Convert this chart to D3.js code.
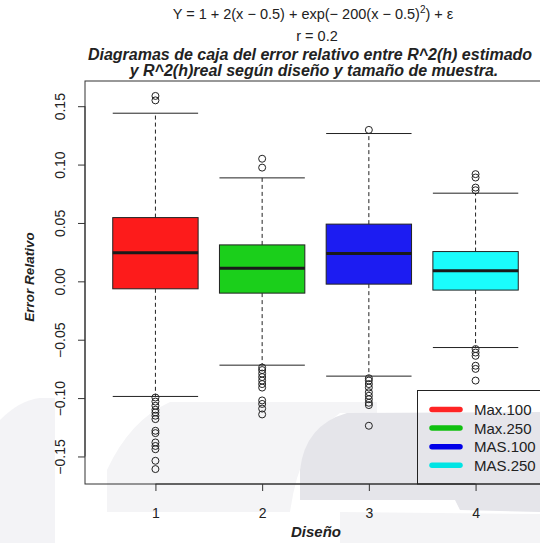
<!DOCTYPE html>
<html>
<head>
<meta charset="utf-8">
<script src="https://cdn.jsdelivr.net/npm/d3@7/dist/d3.min.js"></script>
<style>
  html, body { margin: 0; padding: 0; background: #fff; }
  svg { display: block; font-family: "Liberation Sans", Arial, Helvetica, sans-serif; }
</style>
</head>
<body>
<svg id="chart" width="540" height="543"></svg>
<script>
// ---- data ----
const designs = [1, 2, 3, 4];
const seriesNames = ["Max.100", "Max.250", "MAS.100", "MAS.250"];
const boxColors = ["#fd1b1b", "#1bcf1b", "#1c1cf2", "#1afcfc"];
const legendColors = ["#ff2424", "#10c010", "#0000e8", "#00e4e4"];
const whiskerLow  = [-0.0986, -0.0718, -0.0812, -0.0567];
const q1          = [-0.0064, -0.0101, -0.0024, -0.0075];
const medians     = [ 0.0244,  0.0113,  0.0238,  0.0090];
const q3          = [ 0.0546,  0.0312,  0.0490,  0.0255];
const whiskerHigh = [ 0.1440,  0.0886,  0.1266,  0.0755];
const outliers1 = [0.1588, 0.1550, -0.0995, -0.1030, -0.1066, -0.1100, -0.1123, -0.1151, -0.1180, -0.1280, -0.1300, -0.1380, -0.1410, -0.1438, -0.1537, -0.1608];
const outliers2 = [0.1050, 0.0974, -0.0738, -0.0760, -0.0790, -0.0820, -0.0850, -0.0880, -0.0910, -0.1020, -0.1050, -0.1090, -0.1140];
const outliers3 = [0.1297, -0.0830, -0.0850, -0.0880, -0.0910, -0.0950, -0.0980, -0.1010, -0.1040, -0.1060, -0.1237];
const outliers4 = [0.0918, 0.0889, 0.0803, 0.0780, -0.0580, -0.0610, -0.0638, -0.0723, -0.0750, -0.0850];
const outliers = [outliers1, outliers2, outliers3, outliers4];
const yTicks = [-0.15, -0.10, -0.05, 0.00, 0.05, 0.10, 0.15];

// ---- layout ----
const svg = d3.select("#chart");
const plotL = 85, plotR = 546, plotT = 81, plotB = 484;

// faint watermark in background
const wm = svg.append("g");
wm.append("path").attr("fill", "#f3f3f6")
  .attr("d", "M0,420 Q20,400 40,398 L55,398 L55,543 L0,543 Z");
wm.append("path").attr("fill", "#f4f4f6")
  .attr("d", "M107,512 L107,470 Q130,420 170,402 L377,402 L377,413 L340,413 Q300,440 290,512 Z");
wm.append("path").attr("fill", "#e5e5ea")
  .attr("d", "M300,500 L300,470 Q305,425 347,413 L540,412 L540,512 L460,510 L455,500 Z");
wm.append("path").attr("fill", "#f4f4f6")
  .attr("d", "M340,512 L540,514 L540,543 L340,543 Z");

const x = d3.scaleLinear().domain([0.34, 4.66]).range([plotL, plotR]);
const allVals = [].concat(...outliers, whiskerLow, whiskerHigh);
const yMin = d3.min(allVals), yMax = d3.max(allVals);
const ext = (yMax - yMin) * 0.04;
const y = d3.scaleLinear().domain([yMin - ext, yMax + ext]).range([plotB, plotT]);
const bw = 0.8;

// boxes
designs.forEach((d, i) => {
  const g = svg.append("g");
  const cx = x(d), x0 = x(d - bw / 2), x1 = x(d + bw / 2);
  g.append("line").attr("x1", cx).attr("x2", cx).attr("y1", y(q3[i])).attr("y2", y(whiskerHigh[i]))
    .attr("stroke", "#222").attr("stroke-dasharray", "4,3");
  g.append("line").attr("x1", cx).attr("x2", cx).attr("y1", y(q1[i])).attr("y2", y(whiskerLow[i]))
    .attr("stroke", "#222").attr("stroke-dasharray", "4,3");
  [whiskerHigh[i], whiskerLow[i]].forEach(v => {
    g.append("line").attr("x1", x0).attr("x2", x1).attr("y1", y(v)).attr("y2", y(v))
      .attr("stroke", "#222");
  });
  g.append("rect").attr("x", x0).attr("y", y(q3[i])).attr("width", x1 - x0)
    .attr("height", y(q1[i]) - y(q3[i])).attr("fill", boxColors[i]).attr("stroke", "#222");
  g.append("line").attr("x1", x0).attr("x2", x1).attr("y1", y(medians[i])).attr("y2", y(medians[i]))
    .attr("stroke", "#1a1a1a").attr("stroke-width", 3);
  g.selectAll("circle").data(outliers[i]).enter().append("circle")
    .attr("cx", cx).attr("cy", v => y(v)).attr("r", 3.5)
    .attr("fill", "none").attr("stroke", "#222").attr("stroke-width", 1);
});

// frame
svg.append("rect").attr("x", plotL).attr("y", plotT).attr("width", plotR - plotL)
  .attr("height", plotB - plotT).attr("fill", "none").attr("stroke", "#333");

// y axis
const yAxis = svg.append("g").attr("transform", `translate(${plotL},0)`)
  .call(d3.axisLeft(y).tickValues(yTicks).tickSize(7).tickSizeOuter(0).tickFormat(d3.format(".2f")));
yAxis.select(".domain").attr("d", `M0,${y(yTicks[0])}V${y(yTicks[yTicks.length - 1])}`).attr("stroke", "#333");
yAxis.selectAll(".tick line").attr("stroke", "#333");
yAxis.selectAll(".tick text")
  .attr("x", null).attr("dy", null)
  .attr("transform", "translate(-20,0) rotate(-90)")
  .attr("text-anchor", "middle")
  .attr("font-size", 14).attr("fill", "#222")
  .attr("font-family", "Liberation Sans, Arial, sans-serif")
  .text(d => d3.format(".2f")(d).replace("-", "\u2212\u2009"));

// x axis
const xAxis = svg.append("g").attr("transform", `translate(0,${plotB})`)
  .call(d3.axisBottom(x).tickValues(designs).tickSize(7).tickSizeOuter(0).tickFormat(d3.format("d")));
xAxis.select(".domain").attr("d", `M${x(1)},0H${x(4)}`).attr("stroke", "#333");
xAxis.selectAll(".tick line").attr("stroke", "#333");
xAxis.selectAll(".tick text").attr("y", 34).attr("dy", null).attr("font-size", 14).attr("fill", "#222")
  .attr("font-family", "Liberation Sans, Arial, sans-serif");

// axis titles
svg.append("text").attr("x", 316).attr("y", 537).attr("text-anchor", "middle")
  .attr("font-size", 15).attr("font-weight", "bold").attr("font-style", "italic").attr("fill", "#222")
  .text("Diseño");
svg.append("text").attr("transform", `translate(34,277) rotate(-90)`)
  .attr("text-anchor", "middle").attr("font-size", 13.5).attr("font-weight", "bold")
  .attr("font-style", "italic").attr("fill", "#222").text("Error Relativo");

// titles
const cxTitle = 313;
const f = svg.append("text").attr("x", cxTitle).attr("y", 19).attr("text-anchor", "middle")
  .attr("font-size", 14.5).attr("fill", "#222");
f.append("tspan").text("Y = 1 + 2(x \u2212 0.5) + exp(\u2212 200(x \u2212 0.5)");
f.append("tspan").attr("dy", -6).attr("font-size", 10).text("2");
f.append("tspan").attr("dy", 6).text(") + \u03b5");
svg.append("text").attr("x", 317).attr("y", 41).attr("text-anchor", "middle")
  .attr("font-size", 14.5).attr("fill", "#222").text("r = 0.2");
svg.append("text").attr("x", 310).attr("y", 60).attr("text-anchor", "middle")
  .attr("font-size", 16).attr("font-weight", "bold").attr("font-style", "italic").attr("fill", "#222")
  .text("Diagramas de caja del error relativo entre R^2(h) estimado");
svg.append("text").attr("x", 314).attr("y", 76).attr("text-anchor", "middle")
  .attr("font-size", 16).attr("font-weight", "bold").attr("font-style", "italic").attr("fill", "#222")
  .text("y R^2(h)real según diseño y tamaño de muestra.");

// legend
const lg = svg.append("g");
lg.append("rect").attr("x", 417.5).attr("y", 390.5).attr("width", 140).attr("height", plotB - 390.5)
  .attr("fill", "none").attr("stroke", "#222");
seriesNames.forEach((name, i) => {
  const ly = 409.5 + i * 18.6;
  lg.append("line").attr("x1", 432).attr("x2", 460).attr("y1", ly).attr("y2", ly)
    .attr("stroke", legendColors[i]).attr("stroke-width", 5.5).attr("stroke-linecap", "round");
  lg.append("text").attr("x", 474).attr("y", ly + 5.5).attr("font-size", 15).attr("fill", "#222").text(name);
});
</script>
</body>
</html>
